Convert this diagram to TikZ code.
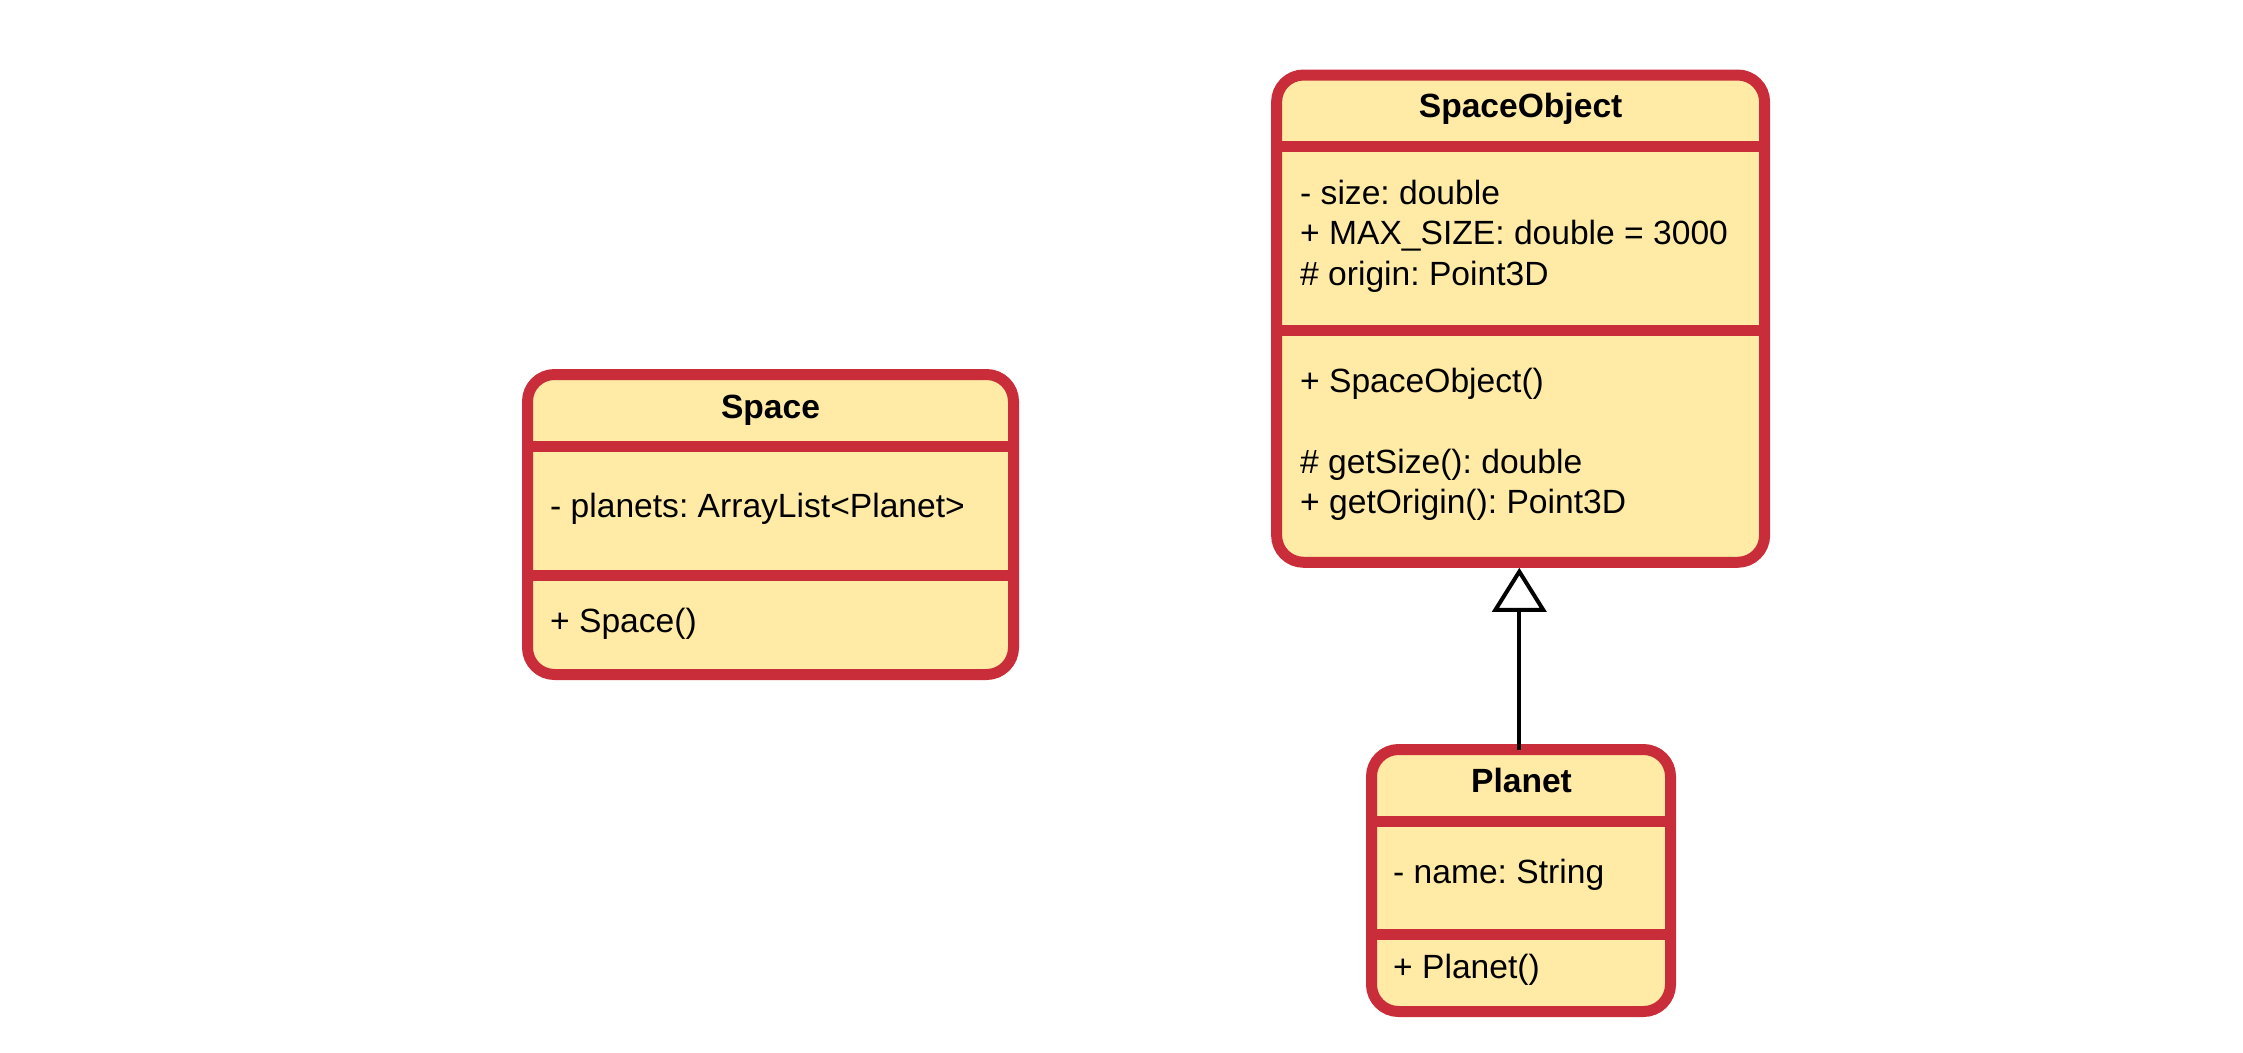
\documentclass[tikz,border=0pt]{standalone}
\usepackage{fontspec}
\setmainfont{Liberation Sans}
\usetikzlibrary{arrows.meta}
\definecolor{boxfill}{HTML}{FFEBA6}
\definecolor{boxline}{HTML}{C92D39}
\tikzset{
  classbox/.style={draw=boxline, fill=boxfill, line width=11pt, rounded corners=27pt,
    rectangle, inner sep=0pt},
  divider/.style={draw=boxline, line width=11pt},
  title/.style={anchor=base, inner sep=0pt, font=\fontsize{33.6pt}{40.5pt}\selectfont\frenchspacing\bfseries},
  member/.style={anchor=base west, inner sep=0pt, font=\fontsize{33.6pt}{40.5pt}\selectfont\frenchspacing},
  inherit/.style={line width=4pt, -{Triangle[length=44pt, width=54pt, fill=white]}, shorten >=0pt}
}
\begin{document}
\begin{tikzpicture}[x=1pt, y=-1pt]
\useasboundingbox (0,0) rectangle (2243,1052);

% Space
\node[classbox, minimum width=486pt, minimum height=300pt] (Space) at (770.5,524.5) {};
\draw[divider] (Space.west |- 0,446) -- (Space.east |- 0,446);
\draw[divider] (Space.west |- 0,575) -- (Space.east |- 0,575);
\node[title] (SpaceT) at (770.5,418) {Space};
\node[member] (SpaceA) at (550,517) {- planets: ArrayList<Planet>};
\node[member] (SpaceM) at (550,632) {+ Space()};

% SpaceObject
\node[classbox, minimum width=488pt, minimum height=487.3pt] (SO) at (1520.6,318.65) {};
\draw[divider] (SO.west |- 0,146) -- (SO.east |- 0,146);
\draw[divider] (SO.west |- 0,330) -- (SO.east |- 0,330);
\node[title] (SOT) at (1520.6,117) {SpaceObject};
\node[member] (SOA1) at (1300,204) {- size: double};
\node[member] (SOA2) at (1300,244.5) {+ MAX\_SIZE: double = 3000};
\node[member] (SOA3) at (1300,285) {\# origin: Point3D};
\node[member] (SOM1) at (1300,392) {+ SpaceObject()};
\node[member] (SOM2) at (1300,473) {\# getSize(): double};
\node[member] (SOM3) at (1300,513.5) {+ getOrigin(): Point3D};

% Planet
\node[classbox, minimum width=299pt, minimum height=262pt] (Planet) at (1521,880.5) {};
\draw[divider] (Planet.west |- 0,821) -- (Planet.east |- 0,821);
\draw[divider] (Planet.west |- 0,934) -- (Planet.east |- 0,934);
\node[title] (PlanetT) at (1521.5,792) {Planet};
\node[member] (PlanetA) at (1393,883) {- name: String};
\node[member] (PlanetM) at (1393,978) {+ Planet()};

% Inheritance
\coordinate (PTop) at (1519.3,749.5);
\draw[inherit] (PTop) -- (PTop |- SO.south);
\end{tikzpicture}
\end{document}
